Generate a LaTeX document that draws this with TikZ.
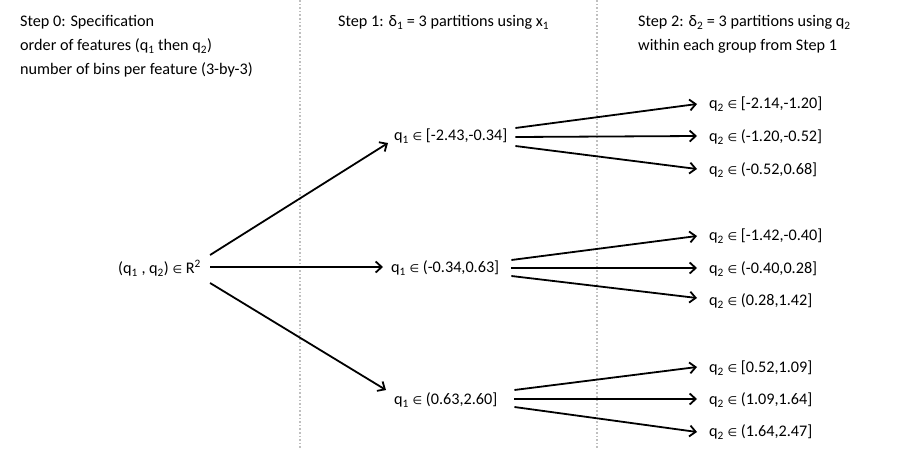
\documentclass[tikz,border=0pt]{standalone}
\usepackage{fontspec}
\setmainfont{Carlito}
\newfontfamily\symf{DejaVu Sans}[Scale=0.68]
\usetikzlibrary{arrows.meta}
\newcommand{\elm}{{\symf ∈}}
\newcommand{\sbt}[1]{\textsubscript{#1}}
\begin{document}
\begin{tikzpicture}[x=1pt,y=-1pt,
  font=\fontsize{16.2}{24}\selectfont,
  txt/.style={inner sep=0pt, anchor=base west},
  lbl/.style={inner sep=0pt, anchor=west},
  arr/.style={-{Straight Barb[length=6pt,width=11pt,line width=1.8pt]}, line width=1.8pt},
  sep/.style={draw=black!25, dotted, line width=1.6pt}]
\fill[white] (0,0) rectangle (900,450);
\useasboundingbox (0,0) rectangle (900,450);
% separators
\coordinate (s1t) at (300,0); \coordinate (s1b) at (300,450);
\coordinate (s2t) at (597,0); \coordinate (s2b) at (597,450);
\draw[sep] (s1t) -- (s1b);
\draw[sep] (s2t) -- (s2b);
% headers
\node[txt] (h0a) at (20,26.5) {Step 0: Specification};
\node[txt] (h0b) at (20,50.5) {order of features (q\sbt{1} then q\sbt{2})};
\node[txt] (h0c) at (20,74.5) {number of bins per feature (3-by-3)};
\node[txt] (h1) at (338,26.5) {Step 1: δ\sbt{1} = 3 partitions using x\sbt{1}};
\node[txt] (h2a) at (638,26.5) {Step 2: δ\sbt{2} = 3 partitions using q\sbt{2}};
\node[txt] (h2b) at (638,50.5) {within each group from Step 1};
% root
\node[lbl] (root) at (118,268) {(q\sbt{1} , q\sbt{2}) \elm{} R\textsuperscript{2}};
% level 1
\node[lbl] (a1) at (394,136) {q\sbt{1} \elm{} [-2.43,-0.34]};
\node[lbl] (a2) at (391,268) {q\sbt{1} \elm{} (-0.34,0.63]};
\node[lbl] (a3) at (394,400) {q\sbt{1} \elm{} (0.63,2.60]};
% level 2
\node[lbl] (b1) at (709,104) {q\sbt{2} \elm{} [-2.14,-1.20]};
\node[lbl] (b2) at (709,137) {q\sbt{2} \elm{} (-1.20,-0.52]};
\node[lbl] (b3) at (709,170) {q\sbt{2} \elm{} (-0.52,0.68]};
\node[lbl] (b4) at (709,236) {q\sbt{2} \elm{} [-1.42,-0.40]};
\node[lbl] (b5) at (709,269) {q\sbt{2} \elm{} (-0.40,0.28]};
\node[lbl] (b6) at (709,301) {q\sbt{2} \elm{} (0.28,1.42]};
\node[lbl] (b7) at (709,368) {q\sbt{2} \elm{} [0.52,1.09]};
\node[lbl] (b8) at (709,400) {q\sbt{2} \elm{} (1.09,1.64]};
\node[lbl] (b9) at (709,432) {q\sbt{2} \elm{} (1.64,2.47]};
% root arrows
\draw[arr] ([xshift=9pt,yshift=13pt]root.east) -- ([xshift=-6pt,yshift=-7pt]a1.west);
\draw[arr] ([xshift=9pt,yshift=1pt]root.east) -- ([xshift=-8pt,yshift=1pt]a2.west);
\draw[arr] ([xshift=9pt,yshift=-15pt]root.east) -- ([xshift=-8pt,yshift=10pt]a3.west);
% level1 -> level2
\draw[arr] ([xshift=8pt,yshift=8pt]a1.east) -- ([xshift=-12pt]b1.west);
\draw[arr] ([xshift=8pt,yshift=-1pt]a1.east) -- ([xshift=-12pt,yshift=1pt]b2.west);
\draw[arr] ([xshift=8pt,yshift=-10pt]a1.east) -- ([xshift=-12pt,yshift=1pt]b3.west);
\draw[arr] ([xshift=12pt,yshift=8pt]a2.east) -- ([xshift=-12pt]b4.west);
\draw[arr] ([xshift=12pt]a2.east) -- ([xshift=-12pt,yshift=1pt]b5.west);
\draw[arr] ([xshift=12pt,yshift=-8pt]a2.east) -- ([xshift=-12pt,yshift=3pt]b6.west);
\draw[arr] ([xshift=17pt,yshift=10pt]a3.east) -- ([xshift=-12pt,yshift=1pt]b7.west);
\draw[arr] ([xshift=17pt,yshift=1pt]a3.east) -- ([xshift=-12pt,yshift=1pt]b8.west);
\draw[arr] ([xshift=17pt,yshift=-7pt]a3.east) -- ([xshift=-12pt]b9.west);
\end{tikzpicture}
\end{document}
